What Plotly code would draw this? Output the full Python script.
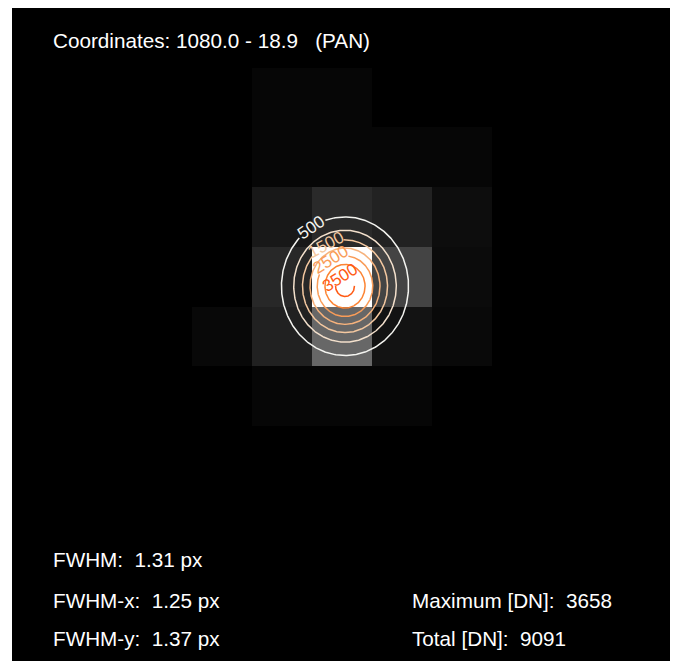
import numpy as np
import plotly.graph_objects as go

# ---- data (DN per pixel, rows top->bottom, cols left->right) ----
cols = list(range(11))
rows = list(range(11))
pixel_dn = [
    [0, 0, 0, 0,   0,   0,    0,   0,   0, 0, 0],
    [0, 0, 0, 0,   86,  86,   0,   0,   0, 0, 0],
    [0, 0, 0, 0,   90,  90,   90,  90,  0, 0, 0],
    [0, 0, 0, 0,   344, 602,  488, 186, 0, 0, 0],
    [0, 0, 0, 0,   574, 3658, 975, 158, 0, 0, 0],
    [0, 0, 0, 110, 473, 1478, 272, 129, 0, 0, 0],
    [0, 0, 0, 0,   80,  80,   80,  0,   0, 0, 0],
    [0, 0, 0, 0,   0,   0,    0,   0,   0, 0, 0],
    [0, 0, 0, 0,   0,   0,    0,   0,   0, 0, 0],
    [0, 0, 0, 0,   0,   0,    0,   0,   0, 0, 0],
    [0, 0, 0, 0,   0,   0,    0,   0,   0, 0, 0],
]

# fitted PSF parameters (as listed on the chart)
peak_dn = 3658
total_dn = 9091
fwhm = 1.31
fwhm_x = 1.25
fwhm_y = 1.37
center_x = 5.05
center_y = 4.16

contour_levels = [500, 1000, 1500, 2000, 2500, 3000, 3500]
contour_colors = ["#f4f4f0", "#f3e0cc", "#f4c8a0", "#f6b27c", "#f99c58", "#fc8434", "#ff5a14"]
# labelled levels: level -> (label position angle [deg], gap centre [deg], half gap [deg])
label_pos = {500: (-122, -122, 14), 1500: (-116, -116, 24), 2500: (-120, -120, 37), 3500: (-120, -90, 88)}

coord_text = "Coordinates: 1080.0 - 18.9   (PAN)"

CELL_W, CELL_H = 60.0, 59.7   # screen pixels per image pixel

sx = fwhm_x / (2 * np.sqrt(2 * np.log(2)))
sy = fwhm_y / (2 * np.sqrt(2 * np.log(2)))

fig = go.Figure()
fig.add_trace(go.Heatmap(
    z=pixel_dn, x=cols, y=rows,
    colorscale=[[0, "#000000"], [1, "#ffffff"]],
    zmin=0, zmax=peak_dn, showscale=False, hoverinfo="skip",
))

label_font_family = "Liberation Sans, Arial, Helvetica, sans-serif"
for lev, col in zip(contour_levels, contour_colors):
    r = np.sqrt(2 * np.log(peak_dn / lev))
    ax_, ay_ = sx * r, sy * r
    if lev in label_pos:
        tl, gc, hg = label_pos[lev]
        t = np.radians(np.linspace(gc + hg, gc + 360 - hg, 400))
    else:
        t = np.radians(np.linspace(0, 360, 400))
    fig.add_trace(go.Scatter(
        x=center_x + ax_ * np.cos(t), y=center_y + ay_ * np.sin(t),
        mode="lines", line=dict(color=col, width=1.5), hoverinfo="skip",
    ))
    if lev in label_pos:
        tc = np.radians(label_pos[lev][0])
        px_x = -ax_ * CELL_W * np.sin(tc)
        px_y = ay_ * CELL_H * np.cos(tc)
        ang = np.degrees(np.arctan2(px_y, px_x))
        fig.add_annotation(
            x=center_x + ax_ * np.cos(tc), y=center_y + ay_ * np.sin(tc),
            xref="x", yref="y", text=str(lev), showarrow=False, textangle=ang,
            font=dict(family=label_font_family, size=17, color=col),
        )

nb = "\u00a0"
font = dict(family="Liberation Sans, Arial, Helvetica, sans-serif", size=20.7, color="#ffffff")
texts = [
    (coord_text.replace(" ", nb), 0.0593, 0.9495),
    (f"FWHM:{nb}{nb}{fwhm:.2f}{nb}px", 0.0593, 0.1547),
    (f"FWHM-x:{nb}{nb}{fwhm_x:.2f}{nb}px", 0.0593, 0.0934),
    (f"FWHM-y:{nb}{nb}{fwhm_y:.2f}{nb}px", 0.0593, 0.0337),
    (f"Maximum{nb}[DN]:{nb}{nb}{peak_dn}", 0.6049, 0.0934),
    (f"Total{nb}[DN]:{nb}{nb}{total_dn}", 0.6049, 0.0337),
]
for t, x, y in texts:
    fig.add_annotation(text=t, x=x, y=y, xref="paper", yref="paper",
                       xanchor="left", yanchor="middle", showarrow=False, font=font)

fig.update_xaxes(range=[-0.5, -0.5 + 658 / CELL_W], visible=False, showgrid=False, zeroline=False)
fig.update_yaxes(range=[-0.5 + 653 / CELL_H, -0.5], visible=False, showgrid=False, zeroline=False)
fig.update_layout(
    width=674, height=661,
    margin=dict(l=12, r=4, t=8, b=0),
    paper_bgcolor="#ffffff", plot_bgcolor="#000000",
    showlegend=False,
)
fig.write_html("out.html", config={"displayModeBar": False},
               post_script="document.body.style.margin='0';document.body.style.overflow='hidden';")
